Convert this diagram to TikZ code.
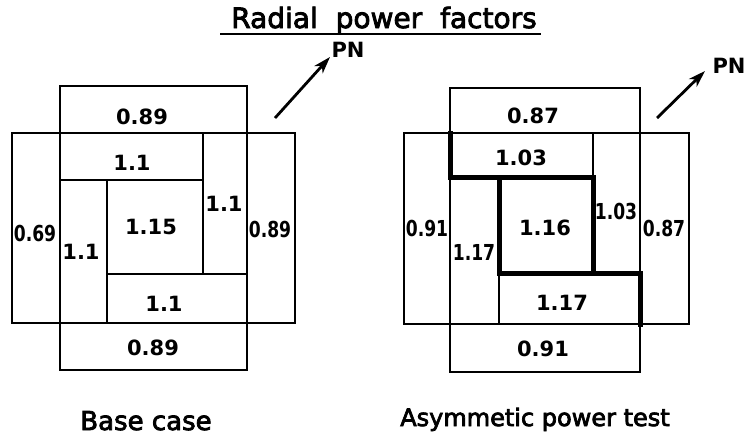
\documentclass[tikz,border=0pt]{standalone}
\usepackage{fontspec}
\setmainfont{DejaVu Sans}
\newfontfamily\lblfont{DejaVu Sans}[FakeBold=3]
\newfontfamily\numfont{DejaVu Sans Bold}
\newfontfamily\snumfont{DejaVu Sans Bold}[FakeStretch=0.78]
\usetikzlibrary{arrows.meta}
\begin{document}
\begin{tikzpicture}[x=1pt,y=-1pt,
  cell/.style={draw, line width=2.4pt, outer sep=0pt, inner sep=0pt, rectangle},
  num/.style={font=\numfont\fontsize{21}{21}\selectfont, inner sep=0pt},
  snum/.style={font=\snumfont\fontsize{22}{22}\selectfont, inner sep=0pt},
  lbl/.style={font=\lblfont\fontsize{24}{24}\selectfont, inner sep=0pt, anchor=base},
  ttl/.style={font=\lblfont\fontsize{28}{28}\selectfont, inner sep=0pt, anchor=base},
  heavy/.style={line width=5pt, line cap=rect, line join=miter},
  arr/.style={line width=2.8pt, -{Stealth[length=17pt,width=11pt,inset=5pt]}}]
\useasboundingbox (0,0) rectangle (746,437);

% ---------- title ----------
\node[ttl] (title) at (384,28) {Radial\hspace{9pt} power\hspace{9pt} factors};
\coordinate (u1) at (220,34);
\coordinate (u2) at (541,34);
\draw[line width=2.2pt] (u1) -- (u2);

% ---------- left: base case ----------
\node[cell, minimum width=187pt, minimum height=47pt] (Ltop) at (153.5,109.5) {};
\node[cell, minimum width=48pt, minimum height=190pt] (Llc) at (36,228) {};
\node[cell, minimum width=48pt, minimum height=190pt] (Lrc) at (271,228) {};
\node[cell, minimum width=187pt, minimum height=47pt] (Lbot) at (153.5,346.5) {};
\node[cell, minimum width=143pt, minimum height=47pt] (Li1) at (131.5,156.5) {};
\node[cell, minimum width=44pt, minimum height=141pt] (Li2) at (225,203.5) {};
\node[cell, minimum width=47pt, minimum height=143pt] (Li3) at (83.5,251.5) {};
\node[cell, minimum width=96pt, minimum height=94pt] (Lc) at (155,227) {};
\node[cell, minimum width=140pt, minimum height=49pt] (Li4) at (177,298.5) {};

\node[num] (nLtop) at (142,117) {0.89};
\node[num] (nLi1) at (132,163) {1.1};
\node[num] (nLi2) at (224,204) {1.1};
\node[snum] (nLlc) at (35,233) {0.69};
\node[num] (nLi3) at (81,252) {1.1};
\node[num] (nLc) at (151,227) {1.15};
\node[snum] (nLrc) at (270,229) {0.89};
\node[num] (nLi4) at (164,304) {1.1};
\node[num] (nLbot) at (153,348) {0.89};

\node[lbl, font=\lblfont\fontsize{26}{26}\selectfont] (Lcap) at (146,430) {Base case};

\coordinate (La) at (275,118);
\coordinate (Lb) at (330,57);
\draw[arr] (La) -- (Lb);
\node[num] (LPN) at (348,50) {PN};

% ---------- right: asymmetric power test ----------
\node[cell, minimum width=190pt, minimum height=45pt] (Rtop) at (545,110.5) {};
\node[cell, minimum width=46pt, minimum height=191pt] (Rlc) at (427,228.5) {};
\node[cell, minimum width=49pt, minimum height=191pt] (Rrc) at (664.5,228.5) {};
\node[cell, minimum width=190pt, minimum height=48pt] (Rbot) at (545,348) {};
\node[cell, minimum width=143pt, minimum height=44pt] (Ri1) at (521.5,155) {};
\node[cell, minimum width=47pt, minimum height=140pt] (Ri2) at (616.5,203) {};
\node[cell, minimum width=49pt, minimum height=147pt] (Ri3) at (474.5,250.5) {};
\node[cell, minimum width=94pt, minimum height=96pt] (Rc) at (546,225) {};
\node[cell, minimum width=141pt, minimum height=51pt] (Ri4) at (569.5,298.5) {};

\draw[heavy] (Ri1.north west) -- (Ri1.south west) -- (Rc.north east) -- (Rc.south east) -- (Ri4.north east) -- (Ri4.south east);
\draw[heavy] (Rc.north west) -- (Rc.south west) -- (Rc.south east);

\node[num] (nRtop) at (533,116) {0.87};
\node[num] (nRi1) at (521,158) {1.03};
\node[snum] (nRi2) at (616,211) {1.03};
\node[snum] (nRlc) at (427,228) {0.91};
\node[snum] (nRi3) at (474,252) {1.17};
\node[num] (nRc) at (545,228) {1.16};
\node[snum] (nRrc) at (664,228) {0.87};
\node[num] (nRi4) at (562,303) {1.17};
\node[num] (nRbot) at (543,349) {0.91};

\node[lbl] (Rcap) at (535,426) {Asymmetic power test};

\coordinate (Ra) at (657,118);
\coordinate (Rb) at (705,71);
\draw[arr] (Ra) -- (Rb);
\node[num] (RPN) at (729,66) {PN};
\end{tikzpicture}
\end{document}
